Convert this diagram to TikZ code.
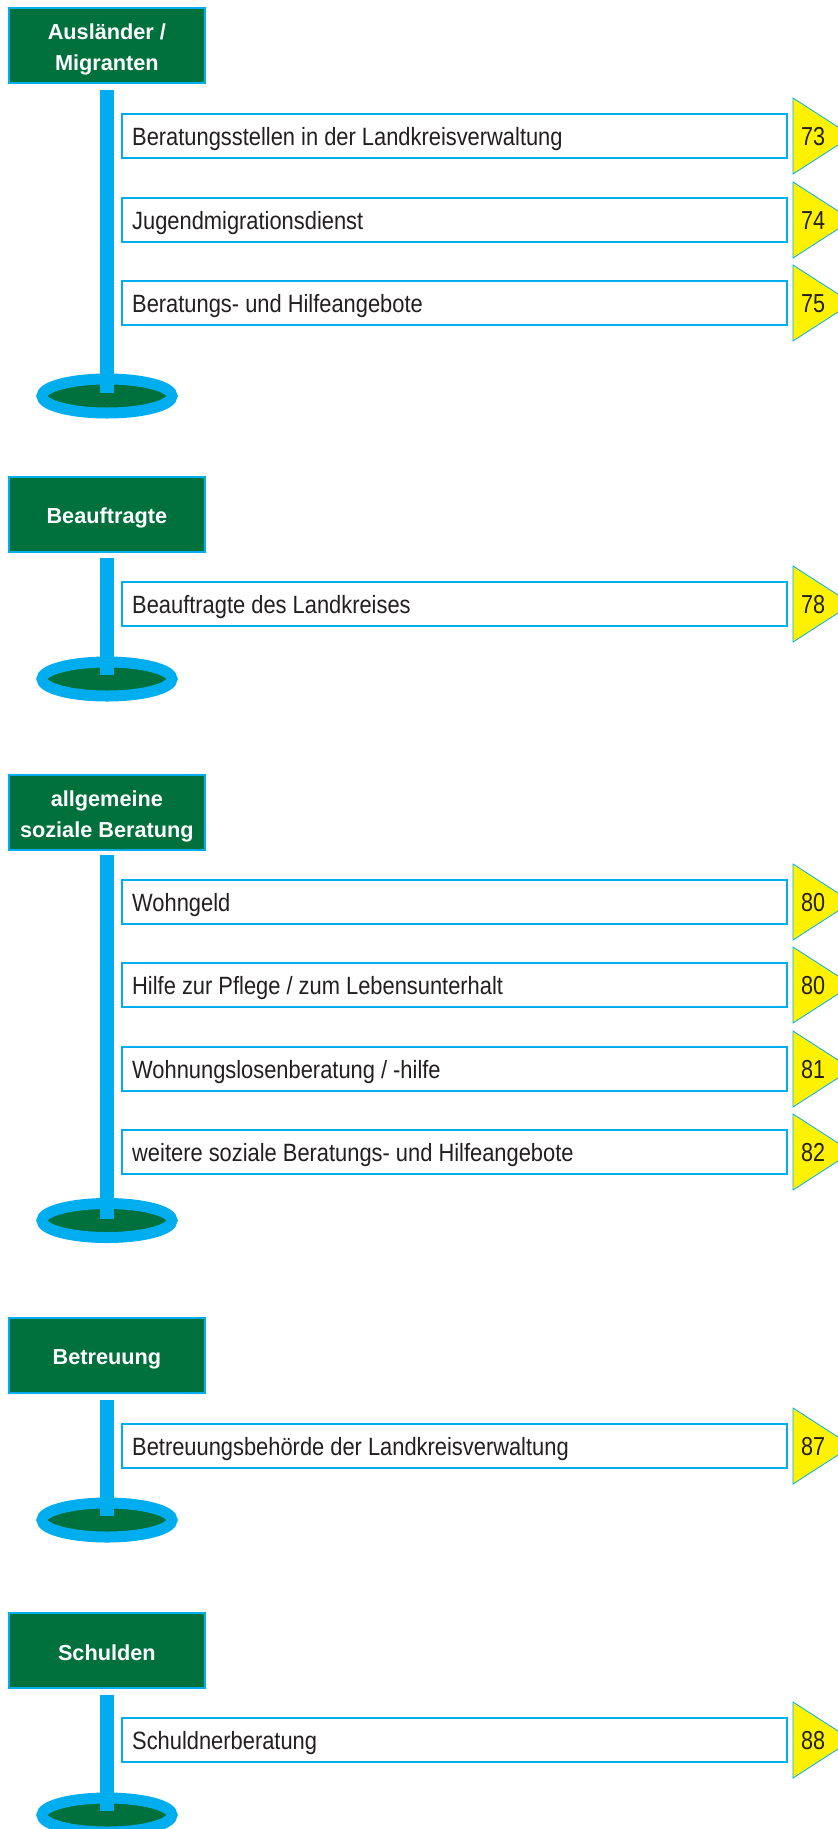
\documentclass[tikz,border=0pt]{standalone}
\usepackage{fontspec}
\setmainfont{Liberation Sans}
\newfontfamily\narrowfont[FakeStretch=0.875]{Liberation Sans}
\newfontfamily\numfont[FakeStretch=0.83]{Liberation Sans}
\definecolor{hgreen}{HTML}{00703C}
\definecolor{hblue}{HTML}{00AEEF}
\definecolor{hyellow}{HTML}{FFF200}
\definecolor{htext}{HTML}{231F20}
\tikzset{
  headbox/.style={draw=hblue, line width=2pt, fill=hgreen, minimum width=195.7pt, minimum height=75pt, inner sep=0pt},
  headtext/.style={anchor=base, inner sep=0pt, text=white, font=\fontsize{21.7}{26}\selectfont\bfseries},
  entrybox/.style={draw=hblue, line width=2pt, fill=white},
  entrytext/.style={anchor=base west, inner sep=0pt, text=htext, font=\narrowfont\fontsize{25}{30}\selectfont},
  pagetri/.style={draw=hblue, line width=0.8pt, fill=hyellow},
  pagenum/.style={anchor=base, inner sep=0pt, text=htext, font=\numfont\fontsize{26}{30}\selectfont},
  polestyle/.style={draw=hblue, line width=14pt, line cap=butt},
  basestyle/.style={draw=hblue, line width=11pt, fill=hgreen},
}
% #1 top, #2 name, #3 text, #4 number
\newcommand\myentry[4]{%
  \pgfmathsetmacro\cy{#1+23}
  \draw[entrybox] (122,#1+1) rectangle (787,#1+45);
  \node[entrytext] (#2) at (132,\cy+9) {#3};
  \filldraw[pagetri] (793,\cy-38) -- (793,\cy+38) -- (852,\cy) -- cycle;
  \node[pagenum] (#2n) at (813,\cy+9.5) {#4};
}
% #1 name, #2 center y of header, #3 pole top, #4 pole bottom, #5 base center y
\newcommand\mystand[5]{%
  \node[headbox] (#1) at (106.85,#2) {};
  \draw[basestyle] (107,#5) ellipse [x radius=65pt, y radius=17pt];
  \coordinate (#1pt) at (107,#3);
  \coordinate (#1pb) at (107,#4);
  \draw[polestyle] (#1pt) -- (#1pb);
}
\begin{document}
\begin{tikzpicture}[x=1pt,y=-1pt]
\useasboundingbox (0,0) rectangle (838,1829);
\begin{scope}
\clip (0,0) rectangle (838,1829);
\fill[white] (0,0) rectangle (838,1829);

% Section 1
\mystand{h1}{45.5}{90}{393}{396}
\node[headtext] (h1a) at (106.85,39.5) {Ausländer /};
\node[headtext] (h1b) at (106.85,70) {Migranten};
\myentry{113}{e11}{Beratungsstellen in der Landkreisverwaltung}{73}
\myentry{197}{e12}{Jugendmigrationsdienst}{74}
\myentry{280}{e13}{Beratungs- und Hilfeangebote}{75}

% Section 2
\mystand{h2}{514}{558}{675}{679}
\node[headtext] (h2a) at (106.85,523.3) {Beauftragte};
\myentry{581}{e21}{Beauftragte des Landkreises}{78}

% Section 3
\mystand{h3}{812.5}{855}{1219}{1220.5}
\node[headtext] (h3a) at (106.85,806) {allgemeine};
\node[headtext] (h3b) at (106.85,837) {soziale Beratung};
\myentry{879}{e31}{Wohngeld}{80}
\myentry{962}{e32}{Hilfe zur Pflege / zum Lebensunterhalt}{80}
\myentry{1046}{e33}{Wohnungslosenberatung / -hilfe}{81}
\myentry{1129}{e34}{weitere soziale Beratungs- und Hilfeangebote}{82}

% Section 4
\mystand{h4}{1355}{1400}{1516}{1520}
\node[headtext] (h4a) at (106.85,1364) {Betreuung};
\myentry{1423}{e41}{Betreuungsbehörde der Landkreisverwaltung}{87}

% Section 5
\mystand{h5}{1650.5}{1695}{1811}{1815}
\node[headtext] (h5a) at (106.85,1660) {Schulden};
\myentry{1717}{e51}{Schuldnerberatung}{88}
\end{scope}
\end{tikzpicture}
\end{document}
